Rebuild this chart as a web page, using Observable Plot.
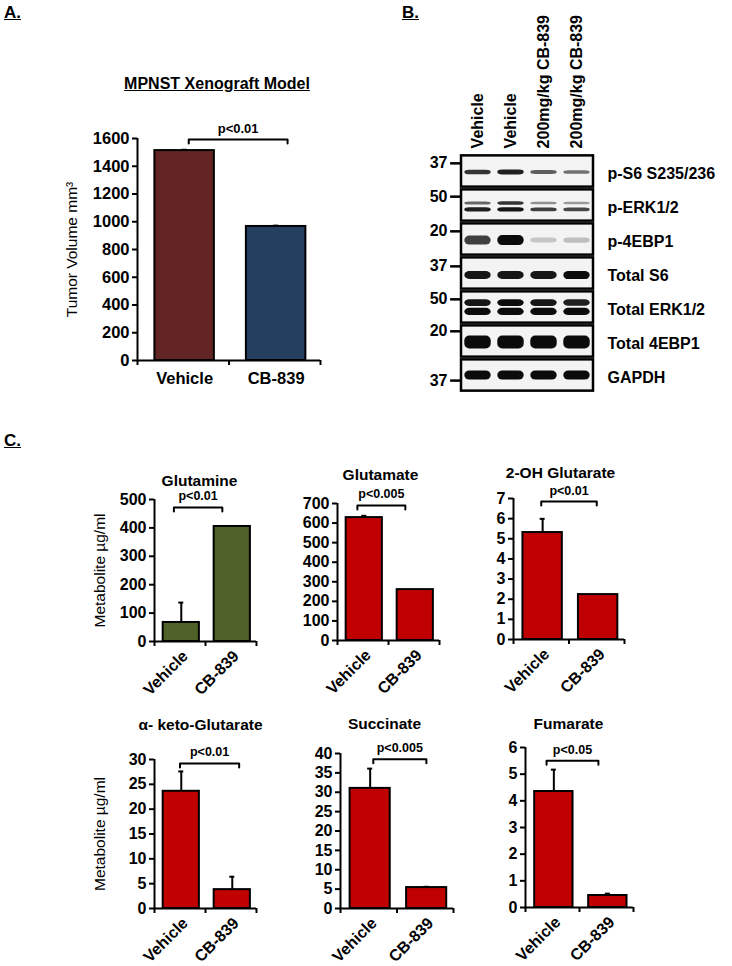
<!DOCTYPE html>
<html><head><meta charset="utf-8">
<script src="https://cdn.jsdelivr.net/npm/d3@7"></script>
<script src="https://cdn.jsdelivr.net/npm/@observablehq/plot@0.6"></script>
<style>
body{margin:0;background:#fff;}
#fig{position:relative;width:732px;height:966px;font-family:"Liberation Sans",Arial,sans-serif;overflow:hidden;background:#fff}
.lbl{position:absolute;font-weight:bold;font-size:17px;text-decoration:underline;line-height:1}
.ttl{position:absolute;font-weight:bold;font-size:16px;text-decoration:underline;line-height:1;white-space:nowrap;transform:translateX(-50%)}
</style></head><body><div id="fig"></div>
<script>
// ---------------- data ----------------
const groups = ["Vehicle", "CB-839"];
const tumorVolume = [1513, 966];
const tumorVolumeErr = [6, 6];

const metabolites = ["Glutamine", "Glutamate", "2-OH Glutarate", "α- keto-Glutarate", "Succinate", "Fumarate"];
const glutamine = [67, 405],   glutamineErr = [70, 0];
const glutamate = [628, 260],  glutamateErr = [9, 0];
const ohGlutarate = [5.31, 2.23], ohGlutarateErr = [0.68, 0];
const akGlutarate = [23.6, 3.8], akGlutarateErr = [4.0, 2.6];
const succinate = [31.0, 5.4], succinateErr = [5.1, 0.2];
const fumarate = [4.35, 0.45], fumarateErr = [0.82, 0.07];
const pValues = ["p<0.01", "p<0.005", "p<0.01", "p<0.01", "p<0.005", "p<0.05"];
const tumorP = "p<0.01";

// western blot
const lanes = ["Vehicle", "Vehicle", "200mg/kg CB-839", "200mg/kg CB-839"];
const proteins = ["p-S6 S235/236", "p-ERK1/2", "p-4EBP1", "Total S6", "Total ERK1/2", "Total 4EBP1", "GAPDH"];
const mwMarkers = ["37", "50", "20", "37", "50", "20", "37"];
const pS6Band = [0.8, 0.9, 0.6, 0.5];
const pERKUpperBand = [0.55, 0.8, 0.35, 0.3];
const pERKLowerBand = [0.9, 0.95, 0.75, 0.7];
const p4EBP1Band = [0.75, 1.0, 0.08, 0.12];
const totalS6Band = [0.95, 0.95, 0.95, 1.0];
const totalERKUpperBand = [0.95, 1.0, 0.95, 0.9];
const totalERKLowerBand = [1.0, 1.0, 1.0, 1.0];
const total4EBP1Band = [1.0, 1.0, 1.0, 1.0];
const gapdhBand = [1.0, 1.0, 1.0, 1.0];

// ---------------- layout ----------------
const fig = document.getElementById("fig");
const FONT = '"Liberation Sans", Arial, sans-serif';

function addLabel(cls, text, x, y) {
  const d = document.createElement("div");
  d.className = cls; d.textContent = text;
  d.style.left = x + "px"; d.style.top = y + "px";
  fig.appendChild(d);
}

function place(svg, left, top) {
  svg.style.position = "absolute";
  svg.style.left = left + "px";
  svg.style.top = top + "px";
  svg.style.overflow = "visible";
  fig.appendChild(svg);
}

function barChart(o) {
  const mL = 90, mR = 40, mT = 70, mB = 70;
  const f = o.frame;
  const fw = f.right - f.left, fh = f.bottom - f.top;
  const unitX = fw / 2;
  const rows = o.values.map((v, i) => ({group: groups[i], i, v, e: o.errors[i]}));
  const center = r => r.i + o.inset + o.barW / 2;
  const drop = o.ymax * 4 / fh;
  const capW = 2.5 / unitX;
  const [bx1, bx2, by] = o.bracket;
  const marks = [];
  rows.forEach(r => marks.push(Plot.rect([r], {
    x1: d => d.i + o.inset, x2: d => d.i + o.inset + o.barW,
    y1: () => 0, y2: d => d.v, fill: o.colors[r.i], stroke: "#000", strokeWidth: 2
  })));
  const er = rows.filter(r => r.e > 0);
  marks.push(Plot.ruleX(er, {x: center, y1: d => d.v, y2: d => d.v + d.e, strokeWidth: 2}));
  marks.push(Plot.ruleY(er, {y: d => d.v + d.e, x1: d => center(d) - capW, x2: d => center(d) + capW, strokeWidth: 2}));
  marks.push(Plot.axisY({ticks: d3.range(0, o.ymax + o.step / 2, o.step), tickSize: 5, tickPadding: 3,
    tickFormat: d => String(d), strokeWidth: 2, fontSize: o.tickFont, fontWeight: "bold", label: null}));
  marks.push(Plot.axisX({ticks: [0, 1, 2], tickSize: 5, strokeWidth: 2, tickFormat: () => "", label: null}));
  marks.push(Plot.ruleX([0], {strokeWidth: 2}));
  marks.push(Plot.ruleY([0], {strokeWidth: 2}));
  // significance bracket
  marks.push(Plot.line([[bx1, by - drop], [bx1, by], [bx2, by], [bx2, by - drop]],
    {x: d => d[0], y: d => d[1], strokeWidth: 2}));
  marks.push(Plot.text([o.p], {x: () => (bx1 + bx2) / 2, y: () => by, dy: -11, lineAnchor: "middle",
    fontSize: o.pFont, fontWeight: "bold"}));
  // category labels
  if (o.rotateX) {
    marks.push(Plot.text(rows, {x: center, text: "group", frameAnchor: "bottom", rotate: -45,
      textAnchor: "end", lineAnchor: "middle", dy: 12, dx: 4, fontSize: o.xFont, fontWeight: "bold"}));
  } else {
    marks.push(Plot.text(rows, {x: center, text: "group", frameAnchor: "bottom", dy: 18,
      lineAnchor: "middle", fontSize: o.xFont, fontWeight: "bold"}));
  }
  if (o.title) {
    marks.push(Plot.text([o.title], {x: () => (o.titleX - f.left) / unitX, frameAnchor: "top",
      lineAnchor: "middle", dy: o.titleY - f.top, fontSize: o.titleFont, fontWeight: "bold"}));
  }
  if (o.ylabel) {
    marks.push(Plot.text([o.ylabel], {frameAnchor: "left", dx: o.ylabelX - f.left, rotate: -90,
      textAnchor: "middle", lineAnchor: "middle", fontSize: o.ylabelFont, fontWeight: "normal"}));
  }
  const svg = Plot.plot({
    width: mL + fw + mR, height: mT + fh + mB,
    marginLeft: mL, marginRight: mR, marginTop: mT, marginBottom: mB,
    x: {domain: [0, 2], axis: null}, y: {domain: [0, o.ymax], axis: null},
    style: {background: "transparent", fontFamily: FONT, color: "#000", overflow: "visible"},
    marks
  });
  place(svg, f.left - mL, f.top - mT);
}

// Panel A
addLabel("lbl", "A.", 4, 4);
addLabel("ttl", "MPNST Xenograft Model", 217, 76);
barChart({values: tumorVolume, errors: tumorVolumeErr, colors: ["#632523", "#243F60"],
  frame: {left: 137, right: 320, top: 138, bottom: 360}, ymax: 1600, step: 200,
  inset: 0.19, barW: 0.65, bracket: [0.56, 1.64, 1593], p: tumorP,
  tickFont: 16.5, pFont: 13, xFont: 16.5, rotateX: false,
  ylabel: "Tumor Volume mm³", ylabelX: 72, ylabelFont: 15.5});

// Panel C
addLabel("lbl", "C.", 4, 432);
const red = "#C00000", olive = "#4F6228";
const cCommon = {inset: 0.17, barW: 0.71, tickFont: 16, pFont: 12.5, xFont: 16, titleFont: 15.5, rotateX: true, ylabelFont: 15.5};
barChart({...cCommon, values: glutamine, errors: glutamineErr, colors: [olive, olive],
  frame: {left: 154, right: 256, top: 499, bottom: 641}, ymax: 500, step: 100,
  bracket: [0.38, 1.33, 472], p: pValues[0], title: metabolites[0], titleX: 199, titleY: 481,
  ylabel: "Metabolite µg/ml", ylabelX: 100});
barChart({...cCommon, values: glutamate, errors: glutamateErr, colors: [red, red],
  frame: {left: 337, right: 439, top: 503, bottom: 640}, ymax: 700, step: 100,
  bracket: [0.39, 1.33, 690], p: pValues[1], title: metabolites[1], titleX: 380, titleY: 475});
barChart({...cCommon, values: ohGlutarate, errors: ohGlutarateErr, colors: [red, red],
  frame: {left: 513, right: 624, top: 498, bottom: 639}, ymax: 7, step: 1,
  bracket: [0.5, 1.5, 6.85], p: pValues[2], title: metabolites[2], titleX: 560, titleY: 473});
barChart({...cCommon, values: akGlutarate, errors: akGlutarateErr, colors: [red, red],
  frame: {left: 154, right: 256, top: 759, bottom: 908}, ymax: 30, step: 5,
  bracket: [0.5, 1.66, 29.2], p: pValues[3], title: metabolites[3], titleX: 200, titleY: 725,
  ylabel: "Metabolite µg/ml", ylabelX: 100});
barChart({...cCommon, values: succinate, errors: succinateErr, colors: [red, red],
  frame: {left: 340, right: 453, top: 753, bottom: 908}, ymax: 40, step: 5,
  bracket: [0.58, 1.52, 38.5], p: pValues[4], title: metabolites[4], titleX: 384, titleY: 724});
barChart({...cCommon, values: fumarate, errors: fumarateErr, colors: [red, red],
  frame: {left: 525, right: 633, top: 747, bottom: 907}, ymax: 6, step: 1,
  bracket: [0.39, 1.35, 5.5], p: pValues[5], title: metabolites[5], titleX: 568, titleY: 724});

// Panel B: western blot
addLabel("lbl", "B.", 402, 4);
(function () {
  const f = {left: 461, right: 593, top: 154, bottom: 392};
  const mL = 90, mR = 139, mT = 154, mB = 10;
  const markerPos = [0.26, 0.24, 0.26, 0.29, 0.26, 0.2, 0.65];
  const bandLayout = [
    {strip: 0, pos: 0.53, h: 0.15, lvl: pS6Band},
    {strip: 1, pos: 0.44, h: 0.12, lvl: pERKUpperBand},
    {strip: 1, pos: 0.63, h: 0.13, lvl: pERKLowerBand},
    {strip: 2, pos: 0.53, h: 0.3, lvl: p4EBP1Band},
    {strip: 3, pos: 0.56, h: 0.24, lvl: totalS6Band},
    {strip: 4, pos: 0.37, h: 0.2, lvl: totalERKUpperBand},
    {strip: 4, pos: 0.63, h: 0.21, lvl: totalERKLowerBand},
    {strip: 5, pos: 0.53, h: 0.38, lvl: total4EBP1Band},
    {strip: 6, pos: 0.5, h: 0.27, lvl: gapdhBand}
  ];
  const bands = bandLayout.flatMap(b => b.lvl.map((v, j) => ({lane: j + 1, strip: b.strip, pos: b.pos, h: b.h * (0.45 + 0.55 * v), v})));
  const strips = proteins.map((p, i) => ({p, i, mw: mwMarkers[i], m: markerPos[i]}));
  const svg = Plot.plot({
    width: mL + (f.right - f.left) + mR, height: mT + (f.bottom - f.top) + mB,
    marginLeft: mL, marginRight: mR, marginTop: mT, marginBottom: mB,
    x: {domain: [0.5, 4.5], axis: null}, y: {domain: [0, 7], reverse: true, axis: null},
    style: {background: "transparent", fontFamily: FONT, color: "#000", overflow: "visible"},
    marks: [
      Plot.rect(strips, {x1: () => 0.5, x2: () => 4.5, y1: d => d.i + 0.04, y2: d => d.i + 0.96,
        fill: "#f3f3f3", stroke: "#000", strokeWidth: 2.5}),
      Plot.rect(bands, {x1: d => d.lane - 0.4, x2: d => d.lane + 0.4,
        y1: d => d.strip + d.pos - d.h / 2, y2: d => d.strip + d.pos + d.h / 2,
        fill: "#0b0b0b", fillOpacity: d => 0.12 + 0.88 * d.v, rx: 5, ariaLabel: "band"}),
      Plot.ruleY(strips, {y: d => d.i + d.m, x1: () => 0.17, x2: () => 0.5, strokeWidth: 2.5}),
      Plot.text(strips, {x: () => 0.5, y: d => d.i + d.m, text: "mw", dx: -14, textAnchor: "end",
        fontSize: 16, fontWeight: "bold"}),
      Plot.text(strips, {x: () => 4.5, y: d => d.i + 0.56, text: "p", dx: 14, textAnchor: "start",
        fontSize: 16, fontWeight: "bold"}),
      Plot.text(lanes.map((l, i) => ({l, i})), {x: d => d.i + 1, y: () => -0.18, text: "l", rotate: -90,
        textAnchor: "start", fontSize: 16, fontWeight: "bold"})
    ]
  });
  // soften the bands like a film exposure
  const ns = "http://www.w3.org/2000/svg";
  const defs = document.createElementNS(ns, "defs");
  const filt = document.createElementNS(ns, "filter");
  filt.setAttribute("id", "bandBlur");
  filt.setAttribute("x", "-20%"); filt.setAttribute("y", "-60%");
  filt.setAttribute("width", "140%"); filt.setAttribute("height", "220%");
  const blur = document.createElementNS(ns, "feGaussianBlur");
  blur.setAttribute("stdDeviation", "1.3");
  filt.appendChild(blur); defs.appendChild(filt); svg.insertBefore(defs, svg.firstChild);
  svg.querySelectorAll('g[aria-label="band"]').forEach(g => g.setAttribute("filter", "url(#bandBlur)"));
  place(svg, f.left - mL, f.top - mT);
})();
</script></body></html>
